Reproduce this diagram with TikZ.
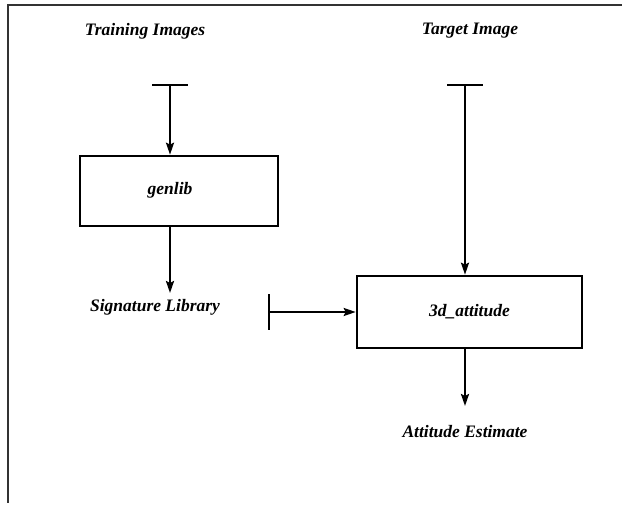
\documentclass[tikz,border=0pt]{standalone}
\usepackage{fontspec}
\setmainfont{Liberation Serif}
\usetikzlibrary{arrows.meta}

\tikzset{
    modul/.style={draw, line width=2.6pt, rectangle, inner sep=0pt},
    titel/.style={font=\fontsize{17.5}{20}\selectfont\bfseries\itshape, inner sep=1pt},
    fluss/.style={line width=2.2pt, -{Stealth[length=12pt, width=8pt, inset=2pt]}},
    quelle/.style={fluss, {Bar[width=36pt, line width=2.2pt]}-{Stealth[length=12pt, width=8pt, inset=2pt]}}
}

\begin{document}
\begin{tikzpicture}[x=1pt, y=-1pt]

    \useasboundingbox (0,0) rectangle (622,505);

    % 1. Rahmen (nur oben und links)
    \draw[line width=1.4pt, black!80] (622,5) -- (8,5) -- (8,503);

    % 2. Module
    \node[modul, minimum width=198pt, minimum height=70pt] (genlib) at (179,191) {};
    \node[titel] (genlibtxt) at (170,190) {genlib};
    \node[modul, minimum width=225pt, minimum height=72pt, titel] (att) at (469.5,312) {3d\_attitude};

    % 3. Ein- und Ausgaben
    \node[titel] (train) at (145,31) {Training Images};
    \node[titel] (target) at (470,31) {Target Image};
    \node[titel] (siglib) at (155,307) {Signature Library};
    \node[titel] (est) at (465,432) {Attitude Estimate};

    \coordinate (trainbar) at (170,84);
    \coordinate (targetbar) at (465,84);
    \coordinate (sigbar) at (268,312);
    \coordinate (sigend) at (170,293);
    \coordinate (estend) at (465,406);

    % 4. Verbindungen
    \draw[quelle] (trainbar) -- (trainbar |- genlib.north);
    \draw[fluss] (trainbar |- genlib.south) -- (sigend);
    \draw[quelle] (targetbar) -- (targetbar |- att.north);
    \draw[quelle] (sigbar) -- (sigbar -| att.west);
    \draw[fluss] (estend |- att.south) -- (estend);

\end{tikzpicture}
\end{document}
